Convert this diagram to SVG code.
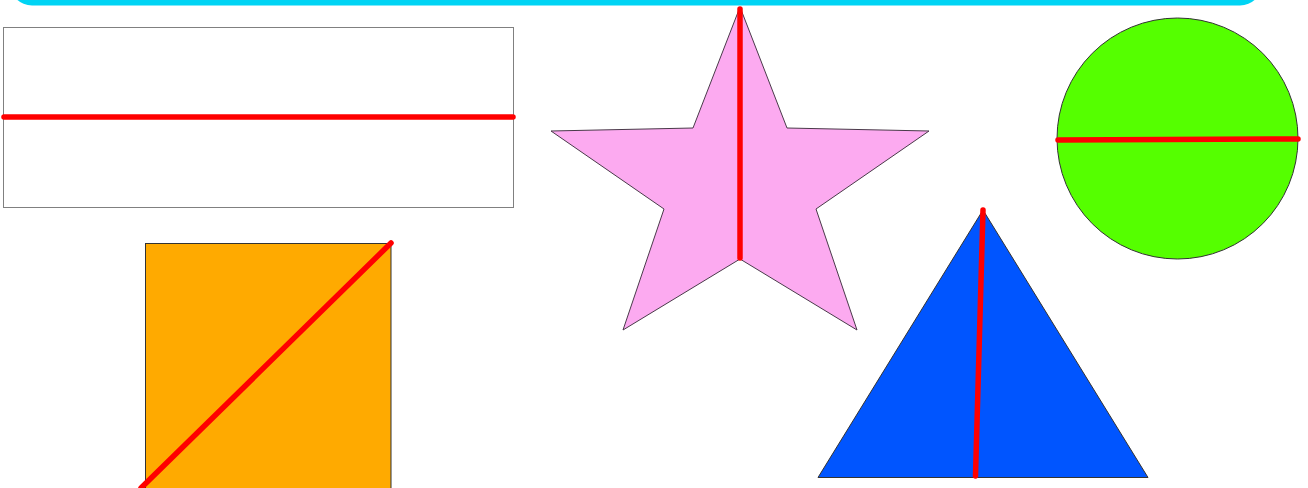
<svg xmlns="http://www.w3.org/2000/svg" width="1308" height="488" viewBox="0 0 1308 488">
<style>
.shape{stroke:#333;stroke-width:1}
.cut{stroke:#ff0000;stroke-width:5.5;stroke-linecap:round;fill:none}
</style>
<rect width="1308" height="488" fill="#ffffff"/>
<g id="topbar"><rect x="10" y="-40" width="1252" height="45.5" rx="22" fill="#00d4f4"/></g>
<g id="rectangle"><rect x="3.5" y="27.5" width="510" height="180" fill="#ffffff" style="stroke:#808080;stroke-width:1"/></g>
<g id="star"><polygon class="shape" fill="#fcaaf0" style="stroke:#4a3a4a" points="740,7 693,128 551,131 664,209 623,330 740,259 857,330 816,209 929,131 787,128"/></g>
<g id="circle"><circle class="shape" cx="1177.5" cy="138.5" r="120.5" fill="#55ff00"/></g>
<g id="triangle"><polygon class="shape" fill="#0055ff" points="983,210 818,477.5 1148,477.5"/></g>
<g id="square"><rect class="shape" x="145.5" y="243.5" width="245.5" height="250" fill="#ffaa00"/></g>
<g id="connectors">
<line class="cut" x1="4" y1="117" x2="513" y2="117"/>
<line class="cut" x1="740" y1="9" x2="740" y2="258"/>
<line class="cut" x1="1058" y1="140" x2="1298" y2="139"/>
<line class="cut" x1="983" y1="210" x2="975.5" y2="476"/>
<line class="cut" x1="391" y1="243" x2="141" y2="488"/>
</g>
</svg>
